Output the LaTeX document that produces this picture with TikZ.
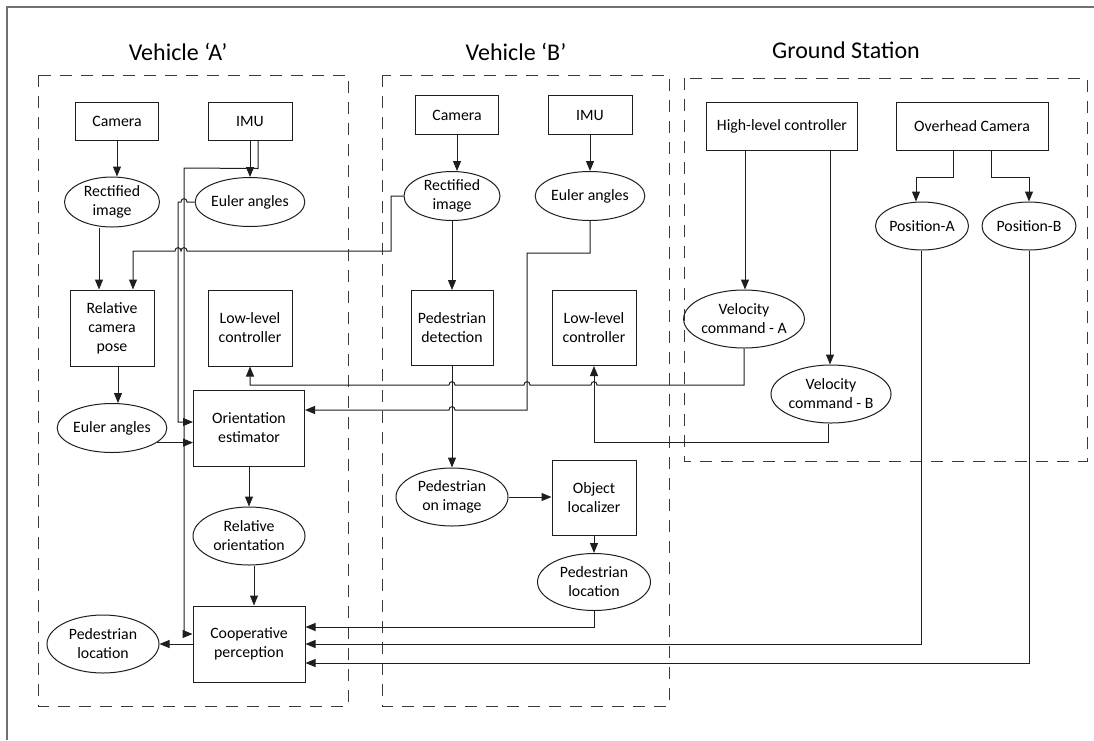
\documentclass[tikz,border=0pt]{standalone}
\usepackage{fontspec}
\setmainfont{Carlito}
\usetikzlibrary{arrows.meta,shapes.geometric}

\definecolor{ink}{HTML}{1E1E1E}
\definecolor{grp}{HTML}{3A3A3A}
\definecolor{frame}{HTML}{707070}

% horizontal wire running leftwards that hops over a vertical wire at x=#1, y=#2
\newcommand{\hopleft}[2]{-- ({#1+3},#2) .. controls ({#1+3},{#2-4.5}) and ({#1-3},{#2-4.5}) .. ({#1-3},#2)}

\begin{document}
\begin{tikzpicture}[x=1pt,y=-1pt,
  nodefont/.style={font=\fontsize{15.8}{19}\selectfont},
  box/.style={draw=ink, line width=1pt, rectangle, inner sep=0pt, align=center, nodefont},
  oval/.style={draw=ink, line width=1pt, ellipse, inner sep=0pt, align=center, nodefont},
  wire/.style={draw=ink, line width=1pt},
  arr/.style={wire, -{Triangle[length=10pt,width=8pt]}},
  group/.style={draw=grp, line width=1pt, dash pattern=on 12pt off 9pt},
  title/.style={font=\fontsize{24}{28}\selectfont}]

\useasboundingbox (0,0) rectangle (1094,740);
\fill[white] (0,0) rectangle (1094,740);

% outer frame (top and left edges)
\draw[frame, line width=1.4pt] (7,740) -- (7,7) -- (1094,7);

% group outlines and titles
\draw[group] (38,75) rectangle (348,706);
\draw[group] (382,75) rectangle (669,706);
\draw[group] (684,78) rectangle (1087,461);
\node[title] (tA) at (178,52) {Vehicle ‘A’};
\node[title] (tB) at (516,52) {Vehicle ‘B’};
\node[title] (tG) at (846,50) {Ground Station};

% ---------------- Vehicle A ----------------
\node[box, minimum width=83, minimum height=38] (camA) at (117,121) {Camera};
\node[box, minimum width=84, minimum height=38] (imuA) at (250,121) {IMU};
\node[oval, minimum width=95, minimum height=50] (rectA) at (112,202) {Rectified\\image};
\node[oval, minimum width=96, minimum height=49] (eulA) at (250,202) {Euler angles};
\node[box, minimum width=84, minimum height=76] (relpose) at (112,328) {Relative\\camera\\pose};
\node[box, minimum width=84, minimum height=76] (lowA) at (250,328) {Low-level\\controller};
\node[oval, minimum width=95, minimum height=49] (eulA2) at (112,428) {Euler angles};
\node[box, minimum width=111, minimum height=76] (orient) at (249,428) {Orientation\\estimator};
\node[oval, minimum width=112, minimum height=58] (relor) at (249,536) {Relative\\orientation};
\node[box, minimum width=112, minimum height=76] (coop) at (249,644) {Cooperative\\perception};
\node[oval, minimum width=112, minimum height=58] (pedA) at (103,644) {Pedestrian\\location};

% ---------------- Vehicle B ----------------
\node[box, minimum width=83, minimum height=39] (camB) at (457,115) {Camera};
\node[box, minimum width=84, minimum height=39] (imuB) at (590,115) {IMU};
\node[oval, minimum width=96, minimum height=49] (rectB) at (452,196) {Rectified\\image};
\node[oval, minimum width=95, minimum height=49] (eulB) at (590,196) {Euler angles};
\node[box, minimum width=82, minimum height=75] (pdet) at (452,328) {Pedestrian\\detection};
\node[box, minimum width=84, minimum height=75] (lowB) at (594,328) {Low-level\\controller};
\node[oval, minimum width=112, minimum height=58] (pimg) at (452,497) {Pedestrian\\on image};
\node[box, minimum width=84, minimum height=75] (objloc) at (594,498) {Object\\localizer};
\node[oval, minimum width=113, minimum height=57] (pedB) at (594,582) {Pedestrian\\location};

% ---------------- Ground station ----------------
\node[box, minimum width=151, minimum height=48] (hlc) at (782,126) {High-level controller};
\node[box, minimum width=152, minimum height=48] (ovc) at (972,126) {Overhead Camera};
\node[oval, minimum width=93, minimum height=48] (posA) at (922,226) {Position-A};
\node[oval, minimum width=94, minimum height=48] (posB) at (1029,226) {Position-B};
\node[oval, minimum width=112, minimum height=58] (velA) at (744,319) {Velocity\\command - A};
\node[oval, minimum width=112, minimum height=58] (velB) at (831,394) {Velocity\\command - B};

% ---------------- connectors, Vehicle A ----------------
\draw[arr] (camA.south) -- (camA.south |- rectA.north);
\draw[arr] (imuA.south) -- (eulA.north);
\draw[arr] ([xshift=8pt]imuA.south) -- ++(0,28) -- (184,168) -- (184,634) -- (coop.west |- 0,634);
\draw[arr] (eulA.west) \hopleft{184}{202} -- (178,202) -- (178,422) -- (orient.west |- 0,422);
\draw[arr] ([xshift=-13pt]rectA.south) -- ([xshift=-13pt]relpose.north);
\draw[arr] ([xshift=6pt]relpose.south) -- ([xshift=6pt]relpose.south |- eulA2.north);
\draw[arr] (eulA2.-18) -- (orient.west |- eulA2.-18);
\draw[arr] (orient.south) -- (relor.north);
\draw[arr] ([xshift=5pt]relor.south) -- ([xshift=5pt]coop.north);
\draw[arr] (coop.west) -- (pedA.east);

% ---------------- connectors, Vehicle B ----------------
\draw[arr] (camB.south) -- (camB.south |- rectB.north);
\draw[arr] (imuB.south) -- (eulB.north);
\draw[arr] (rectB.south) -- (pdet.north);
\draw[arr] (pdet.south) -- (pimg.north);
\draw[arr] (pimg.east) -- (pimg.east -| objloc.west);
\draw[arr] (objloc.south) -- (pedB.north);
\draw[arr] (rectB.west) -- (391,196) -- (391,251) \hopleft{184}{251} \hopleft{178}{251} -- (133,251) -- ([xshift=21pt]relpose.north);
\draw[arr] (eulB.south) -- (590,253) -- (527,253) -- (527,410) \hopleft{452}{410} -- (orient.east |- 0,410);
\draw[arr] (pedB.south) -- (594,627) -- (coop.east |- 0,627);

% ---------------- connectors, Ground station ----------------
\draw[arr] ([xshift=-37pt]hlc.south) -- ([xshift=-37pt]hlc.south |- velA.north);
\draw[arr] ([xshift=48pt]hlc.south) -- ([xshift=48pt]hlc.south |- velB.north);
\draw[arr] ([xshift=-19pt]ovc.south) -- ++(0,27) -| ([xshift=-6pt]posA.north);
\draw[arr] ([xshift=19pt]ovc.south) -- ++(0,27) -| (posB.north);
\draw[arr] ([xshift=-1pt]posA.south) |- (coop.east |- 0,644);
\draw[arr] (posB.south) |- (coop.east |- 0,663);
\draw[arr] (velA.south) -- (744,385) \hopleft{594}{385} \hopleft{527}{385} \hopleft{452}{385} -- (250,385) -- (lowA.south);
\draw[arr] ([xshift=-3pt]velB.south) -- (828,442) -- (594,442) -- (lowB.south);

\end{tikzpicture}
\end{document}
